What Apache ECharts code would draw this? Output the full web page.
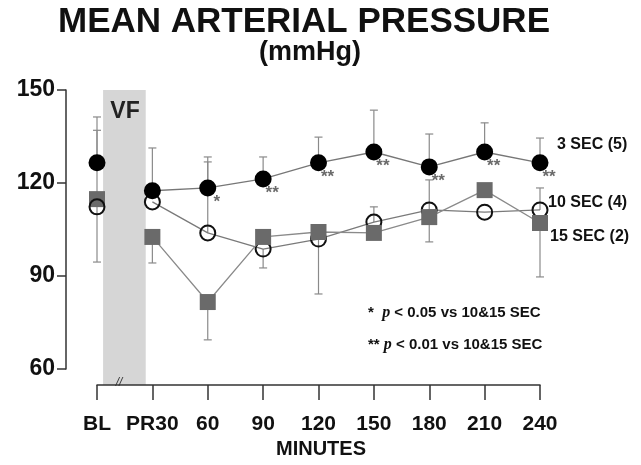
<!DOCTYPE html>
<html>
<head>
    <meta charset="utf-8">
    <title>Mean arterial pressure</title>
    <script src="https://cdn.jsdelivr.net/npm/echarts@6/dist/echarts.min.js"></script>
</head>
<body style="margin:0">
<div id="main" style="width: 641px;height:465px;"></div>
<script type="text/javascript">
    // categories and values
    var minutes = ['BL', 'PR30', '60', '90', '120', '150', '180', '210', '240'];
    var sec3 = [126.5, 117.5, 118.4, 121.3, 126.5, 130.0, 125.2, 130.0, 126.5];
    var sec10 = [112.3, 113.9, 103.9, 98.7, 101.9, 107.4, 111.3, 110.6, 111.3];
    var sec15 = [114.8, 102.6, 81.6, 102.6, 104.2, 103.9, 109.0, 117.7, 107.1];
    // end of each error bar (null = none drawn)
    var sec3Err = [141.3, 131.3, 128.4, 128.4, 134.8, 143.5, 135.8, 139.4, 134.5];
    var sec10Err = [94.5, null, 126.8, 92.6, 84.2, 112.3, 121.0, null, 118.4];
    var sec15Err = [137.0, 94.2, 69.4, null, null, null, 101.0, null, 89.7];
    var sig = ['', '', '*', '**', '**', '**', '**', '**', '**'];
    var yTicks = [60, 90, 120, 150];
    // VF band, as fractions of the BL -> PR30 gap
    var vfStart = 0.11, vfEnd = 0.88;

    var font = 'Liberation Sans, Arial, sans-serif';
    var chartDom = document.getElementById('main');
    var myChart = echarts.init(chartDom);

    function errData(vals, ends) {
        var out = [];
        for (var i = 0; i < vals.length; i++) {
            if (ends[i] != null) out.push([i, vals[i], ends[i]]);
        }
        return out;
    }
    function errSeries(vals, ends) {
        return {
            type: 'custom',
            data: errData(vals, ends),
            encode: {x: 0, y: 1},
            z: 1,
            silent: true,
            renderItem: function (params, api) {
                var p0 = api.coord([api.value(0), api.value(1)]);
                var p1 = api.coord([api.value(0), api.value(2)]);
                var st = {stroke: '#8a8a8a', lineWidth: 1.2};
                return {
                    type: 'group',
                    children: [
                        {type: 'line', shape: {x1: p0[0], y1: p0[1], x2: p1[0], y2: p1[1]}, style: st},
                        {type: 'line', shape: {x1: p1[0] - 4, y1: p1[1], x2: p1[0] + 4, y2: p1[1]}, style: st}
                    ]
                };
            }
        };
    }
    function noBL(vals) {
        return vals.map(function (v, i) { return i === 0 ? '-' : v; });
    }

    var option = {
        animation: false,
        grid: {left: 97, right: 101, top: 90, bottom: 96},
        xAxis: {
            type: 'category',
            data: minutes,
            boundaryGap: false,
            offset: 16,
            axisLine: {lineStyle: {color: '#333', width: 1.5}},
            axisTick: {length: 15, interval: 0, lineStyle: {color: '#333', width: 1.5}},
            axisLabel: {interval: 0, margin: 29, fontSize: 21, fontWeight: 'bold', color: '#111', fontFamily: font},
            splitLine: {show: false}
        },
        yAxis: {
            type: 'value',
            min: yTicks[0],
            max: yTicks[yTicks.length - 1],
            interval: 30,
            offset: 31,
            axisLine: {show: true, lineStyle: {color: '#333', width: 1.5}},
            axisTick: {show: true, length: 9, lineStyle: {color: '#333', width: 1.5}},
            axisLabel: {margin: 11, fontSize: 23, fontWeight: 'bold', color: '#111', fontFamily: font},
            splitLine: {show: false}
        },
        graphic: [
            {type: 'text', style: {text: 'MEAN ARTERIAL PRESSURE', x: 304, y: 22, align: 'center', verticalAlign: 'middle', font: 'bold 35px ' + font, fill: '#111'}},
            {type: 'text', style: {text: '(mmHg)', x: 310, y: 53, align: 'center', verticalAlign: 'middle', font: 'bold 27px ' + font, fill: '#111'}},
            {type: 'text', style: {text: 'MINUTES', x: 321, y: 449, align: 'center', verticalAlign: 'middle', font: 'bold 20px ' + font, fill: '#111'}},
            {type: 'text', style: {text: 'VF', x: 125, y: 112, align: 'center', verticalAlign: 'middle', font: 'bold 23px ' + font, fill: '#222'}, z: 5},
            {type: 'text', style: {text: '//', x: 119, y: 383, align: 'center', verticalAlign: 'middle', font: 'italic 12px ' + font, fill: '#333'}, z: 5},
            {type: 'text', style: {text: '3 SEC (5)', x: 557, y: 145, verticalAlign: 'middle', font: 'bold 16px ' + font, fill: '#111'}},
            {type: 'text', style: {text: '10 SEC (4)', x: 548, y: 203, verticalAlign: 'middle', font: 'bold 16px ' + font, fill: '#111'}},
            {type: 'text', style: {text: '15 SEC (2)', x: 550, y: 237, verticalAlign: 'middle', font: 'bold 16px ' + font, fill: '#111'}},
            {type: 'text', style: {
                text: '{n|*  }{i|p}{n| < 0.05 vs 10&15 SEC}', x: 368, y: 313, verticalAlign: 'middle',
                rich: {n: {font: 'bold 15px ' + font, fill: '#111'}, i: {font: 'italic bold 16px Liberation Serif, serif', fill: '#111'}}
            }},
            {type: 'text', style: {
                text: '{n|** }{i|p}{n| < 0.01 vs 10&15 SEC}', x: 368, y: 345, verticalAlign: 'middle',
                rich: {n: {font: 'bold 15px ' + font, fill: '#111'}, i: {font: 'italic bold 16px Liberation Serif, serif', fill: '#111'}}
            }}
        ],
        series: [
            {
                // VF shaded band between BL and PR30
                type: 'custom',
                data: [[0, 150]],
                encode: {x: 0, y: 1},
                clip: false,
                silent: true,
                z: 0,
                renderItem: function (params, api) {
                    var a = api.coord([0, yTicks[yTicks.length - 1]]);
                    var b = api.coord([1, yTicks[0]]);
                    var x0 = a[0] + vfStart * (b[0] - a[0]);
                    var x1 = a[0] + vfEnd * (b[0] - a[0]);
                    return {
                        type: 'rect',
                        shape: {x: x0, y: a[1], width: x1 - x0, height: b[1] - a[1] + 16},
                        style: {fill: '#d6d6d6'}
                    };
                }
            },
            errSeries(sec3, sec3Err),
            errSeries(sec10, sec10Err),
            errSeries(sec15, sec15Err),
            {
                name: '10 SEC (4)',
                type: 'line',
                data: noBL(sec10),
                symbol: 'circle',
                symbolSize: 15,
                z: 3,
                lineStyle: {color: '#7a7a7a', width: 1.3},
                itemStyle: {color: 'rgba(0,0,0,0)', borderColor: '#111', borderWidth: 2}
            },
            {
                name: '15 SEC (2)',
                type: 'line',
                data: noBL(sec15),
                symbol: 'rect',
                symbolSize: 16,
                z: 4,
                lineStyle: {color: '#8a8a8a', width: 1.3},
                itemStyle: {color: '#6a6a6a'}
            },
            {
                name: '3 SEC (5)',
                type: 'line',
                data: noBL(sec3),
                symbol: 'circle',
                symbolSize: 17,
                z: 4,
                lineStyle: {color: '#777', width: 1.3},
                itemStyle: {color: '#000'},
                label: {
                    show: true,
                    position: 'bottom',
                    distance: 0,
                    offset: [9, -3],
                    color: '#6a6a6a',
                    fontSize: 17,
                    fontWeight: 'bold',
                    formatter: function (p) { return sig[p.dataIndex]; }
                }
            },
            {
                type: 'scatter',
                data: [[0, sec15[0]]],
                symbol: 'rect',
                symbolSize: 16,
                z: 3,
                itemStyle: {color: '#6a6a6a', opacity: 1}
            },
            {
                type: 'scatter',
                data: [[0, sec10[0]]],
                symbol: 'circle',
                symbolSize: 15,
                z: 4,
                itemStyle: {color: 'rgba(0,0,0,0)', borderColor: '#111', borderWidth: 2, opacity: 1}
            },
            {
                type: 'scatter',
                data: [[0, sec3[0]]],
                symbol: 'circle',
                symbolSize: 17,
                z: 4,
                itemStyle: {color: '#000', opacity: 1}
            }
        ]
    };

    if (option && typeof option === 'object') {
        myChart.setOption(option);
    }
</script>
</body>
</html>
